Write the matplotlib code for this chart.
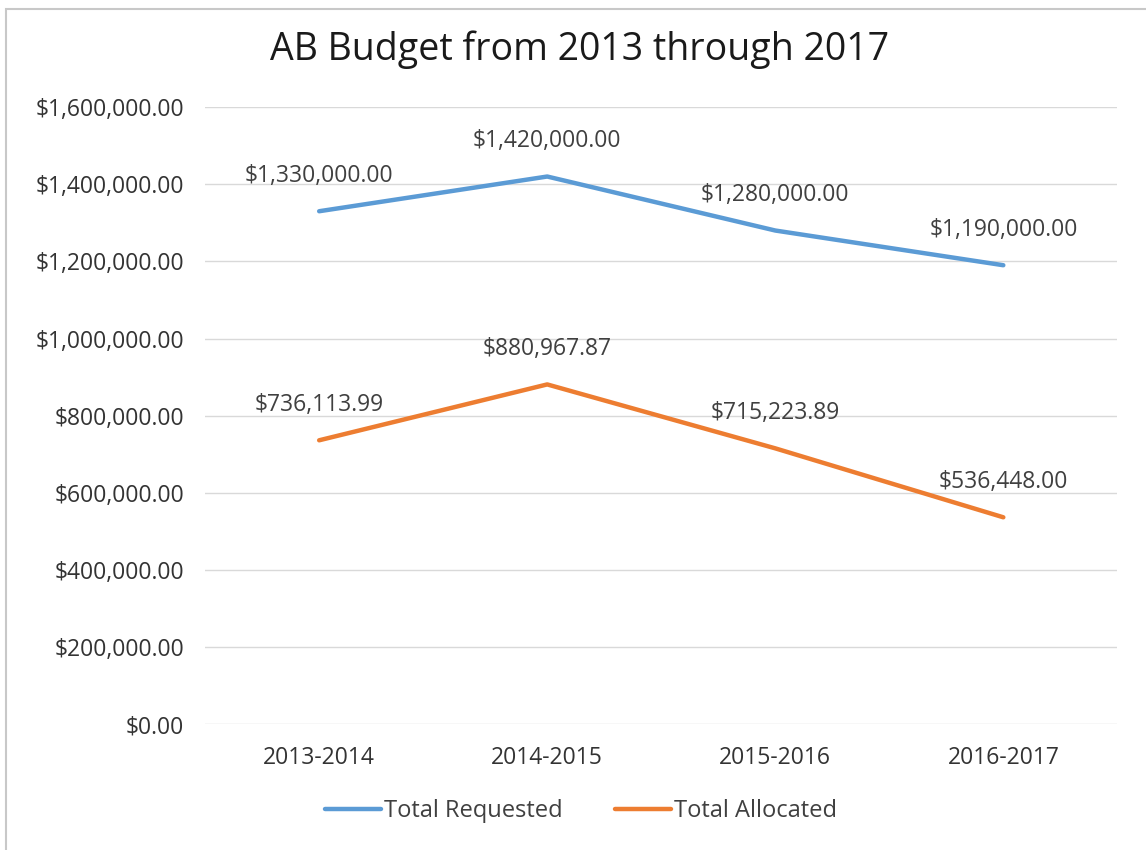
import matplotlib
matplotlib.use("Agg")
import matplotlib.pyplot as plt
from matplotlib.patches import Rectangle

plt.rcParams['font.family'] = ['Open Sans', 'DejaVu Sans']

years = ["2013-2014", "2014-2015", "2015-2016", "2016-2017"]
requested = [1330000.00, 1420000.00, 1280000.00, 1190000.00]
allocated = [736113.99, 880967.87, 715223.89, 536448.00]
yticks = [0, 200000, 400000, 600000, 800000, 1000000, 1200000, 1400000, 1600000]

blue = "#5B9BD5"
orange = "#ED7D31"

fig = plt.figure(figsize=(11.46, 8.5), dpi=100)
ax = fig.add_axes([0.179, 0.148, 0.796, 0.726])

x = range(len(years))
ax.plot(x, requested, color=blue, lw=3.2, solid_capstyle='round', label="Total Requested")
ax.plot(x, allocated, color=orange, lw=3.2, solid_capstyle='round', label="Total Allocated")

for i, v in enumerate(requested):
    ax.annotate("${:,.2f}".format(v), (i, v), xytext=(0, 17), textcoords='offset points',
                ha='center', va='bottom', fontsize=16.5, color='#404040')
for i, v in enumerate(allocated):
    ax.annotate("${:,.2f}".format(v), (i, v), xytext=(0, 17), textcoords='offset points',
                ha='center', va='bottom', fontsize=16.5, color='#404040')

ax.set_xlim(-0.5, 3.5)
ax.set_ylim(0, 1600000)
ax.set_yticks(yticks)
ax.set_yticklabels(["${:,.2f}".format(t) for t in yticks])
ax.set_xticks(list(x))
ax.set_xticklabels(years)
ax.tick_params(axis='both', length=0, labelsize=16.5, labelcolor='#333333')
ax.tick_params(axis='y', pad=15)
ax.tick_params(axis='x', pad=16)
ax.grid(axis='y', color='#D9D9D9', lw=1)
ax.set_axisbelow(True)
for s in ax.spines.values():
    s.set_visible(False)

fig.text(0.506, 0.942, "AB Budget from 2013 through 2017", ha='center', va='center',
         fontsize=27, color='#1a1a1a')

fig.legend(loc='center', bbox_to_anchor=(0.507, 0.046), ncol=2, frameon=False,
           fontsize=17, handlelength=2.4, handletextpad=0.12, columnspacing=2.2,
           labelcolor='#404040')

fig.add_artist(Rectangle((0.005, -0.01), 1.1, 1.0, transform=fig.transFigure,
                         fill=False, edgecolor='#C8C8C8', lw=1.5))

fig.savefig("out.png", dpi=100)
